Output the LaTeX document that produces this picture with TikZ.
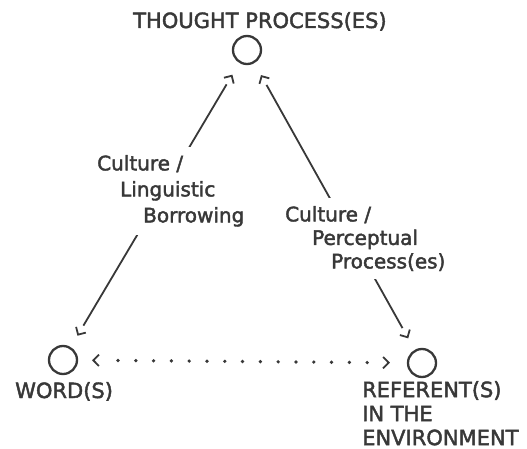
\documentclass[tikz,border=0pt]{standalone}
\usepackage{fontspec}
\setmainfont{DejaVu Sans}[FakeBold=2]
\usetikzlibrary{arrows.meta,decorations.markings}
\definecolor{ink}{HTML}{383838}
\tikzset{
  place/.style={circle, draw=ink, line width=2.3pt, minimum size=28pt, inner sep=0pt, outer sep=0pt},
  caption/.style={inner sep=0pt, text=ink, font={\fontsize{21}{24}\selectfont}, align=left},
  linklabel/.style={fill=white, inner xsep=4pt, inner ysep=8pt, text=ink, align=left},
  tipmarks/.style 2 args={postaction={decorate, decoration={markings,
      mark=at position #1 with {\arrowreversed[draw=ink]{Straight Barb[angle=90:8pt, line width=1.8pt]}},
      mark=at position -#2 with {\arrow[draw=ink]{Straight Barb[angle=90:8pt, line width=1.8pt]}}}}},
  conn/.style={draw=ink, line width=1.8pt, shorten <=26pt, shorten >=26pt, tipmarks={14.7pt}{14.2pt}},
  dotconn/.style={draw=ink, line width=3.7pt, line cap=round,
    dash pattern=on 0pt off 17.8pt, shorten <=41pt, shorten >=40pt, tipmarks={15pt}{18pt}}
}
\begin{document}
\begin{tikzpicture}[x=1pt, y=-1pt]
\useasboundingbox (0,0) rectangle (527,449);
% places
\node[place] (tp) at (247,50) {};
\node[place] (w) at (63,360) {};
\node[place] (r) at (422,363) {};
% captions
\node[caption, anchor=base west] (tpcap) at (133,28) {THOUGHT PROCESS(ES)};
\node[caption, anchor=base west] (wcap) at (15,398) {WORD(S)};
\node[caption, anchor=north west] (rcap) at (362,381) {REFERENT(S)\\IN THE\\ENVIRONMENT};
% connectors
\draw[conn] (tp) -- (w);
\draw[conn] (tp) -- (r);
\draw[dotconn] (w) -- (r);
% connector labels (white fill breaks the lines)
\node[linklabel, anchor=north west, font={\fontsize{20}{26}\selectfont}] (ll) at (93,147)
  {Culture /\\\hspace*{23pt}Linguistic\\\hspace*{46pt}Borrowing};
\node[linklabel, anchor=north west, font={\fontsize{20}{23.5}\selectfont}] (rl) at (281,198)
  {Culture /\\\hspace*{27pt}Perceptual\\\hspace*{46pt}Process(es)};
\end{tikzpicture}
\end{document}
